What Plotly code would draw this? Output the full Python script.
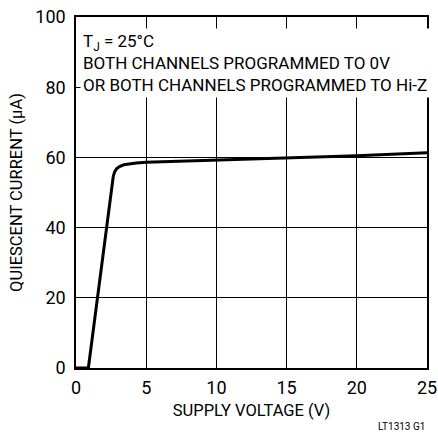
import plotly.graph_objects as go

voltage = [0, 0.88, 2.65, 2.75, 2.9, 3.1, 3.4, 3.8, 4.3, 5, 7.5, 10, 15, 20, 25]
current = [0, 0, 54.5, 55.9, 56.8, 57.4, 57.9, 58.2, 58.4, 58.6, 58.9, 59.2, 59.8, 60.5, 61.3]

x_ticks = [0, 5, 10, 15, 20, 25]
y_ticks = [0, 20, 40, 60, 80, 100]

FONT = "Roboto, Liberation Sans, Arial, sans-serif"

fig = go.Figure()
fig.add_trace(go.Scatter(x=voltage, y=current, mode="lines",
                         line=dict(color="black", width=3),
                         showlegend=False, hoverinfo="skip"))

fig.update_layout(
    width=438, height=435,
    margin=dict(l=76, r=11, t=17, b=67),
    paper_bgcolor="white", plot_bgcolor="white",
    font=dict(family=FONT, size=16, color="black"),
    xaxis=dict(range=[0, 25], tickvals=x_ticks, showgrid=True, gridcolor="black", gridwidth=1,
               showline=True, linecolor="black", linewidth=1.5, mirror=True, zeroline=False,
               ticks="", tickfont=dict(size=18), ticklabelstandoff=3, automargin=False,
               title=dict(text="SUPPLY VOLTAGE (V)", font=dict(size=16.5), standoff=7)),
    yaxis=dict(range=[0, 100], tickvals=y_ticks, showgrid=True, gridcolor="black", gridwidth=1,
               showline=True, linecolor="black", linewidth=1.5, mirror=True, zeroline=False,
               ticks="", tickfont=dict(size=18), ticklabelstandoff=5, automargin=False,
               title=dict(text="QUIESCENT CURRENT (µA)", font=dict(size=16.5), standoff=9)),
)

fig.add_annotation(
    xref="paper", yref="paper", x=0.012, y=0.97, xanchor="left", yanchor="top",
    text="T<sub>J</sub> = 25°C<br>BOTH CHANNELS PROGRAMMED TO 0V<br>OR BOTH CHANNELS PROGRAMMED TO Hi-Z",
    align="left", showarrow=False, bgcolor="white", borderpad=2,
    font=dict(family=FONT, size=17, color="black"),
)
fig.add_annotation(
    xref="paper", yref="paper", x=1.0, y=-0.145, xanchor="right", yanchor="top",
    text="LT1313 G1", showarrow=False, font=dict(family=FONT, size=10, color="black"),
)

fig.write_html("out.html", config={"displayModeBar": False},
               post_script="document.body.style.margin='0';")
